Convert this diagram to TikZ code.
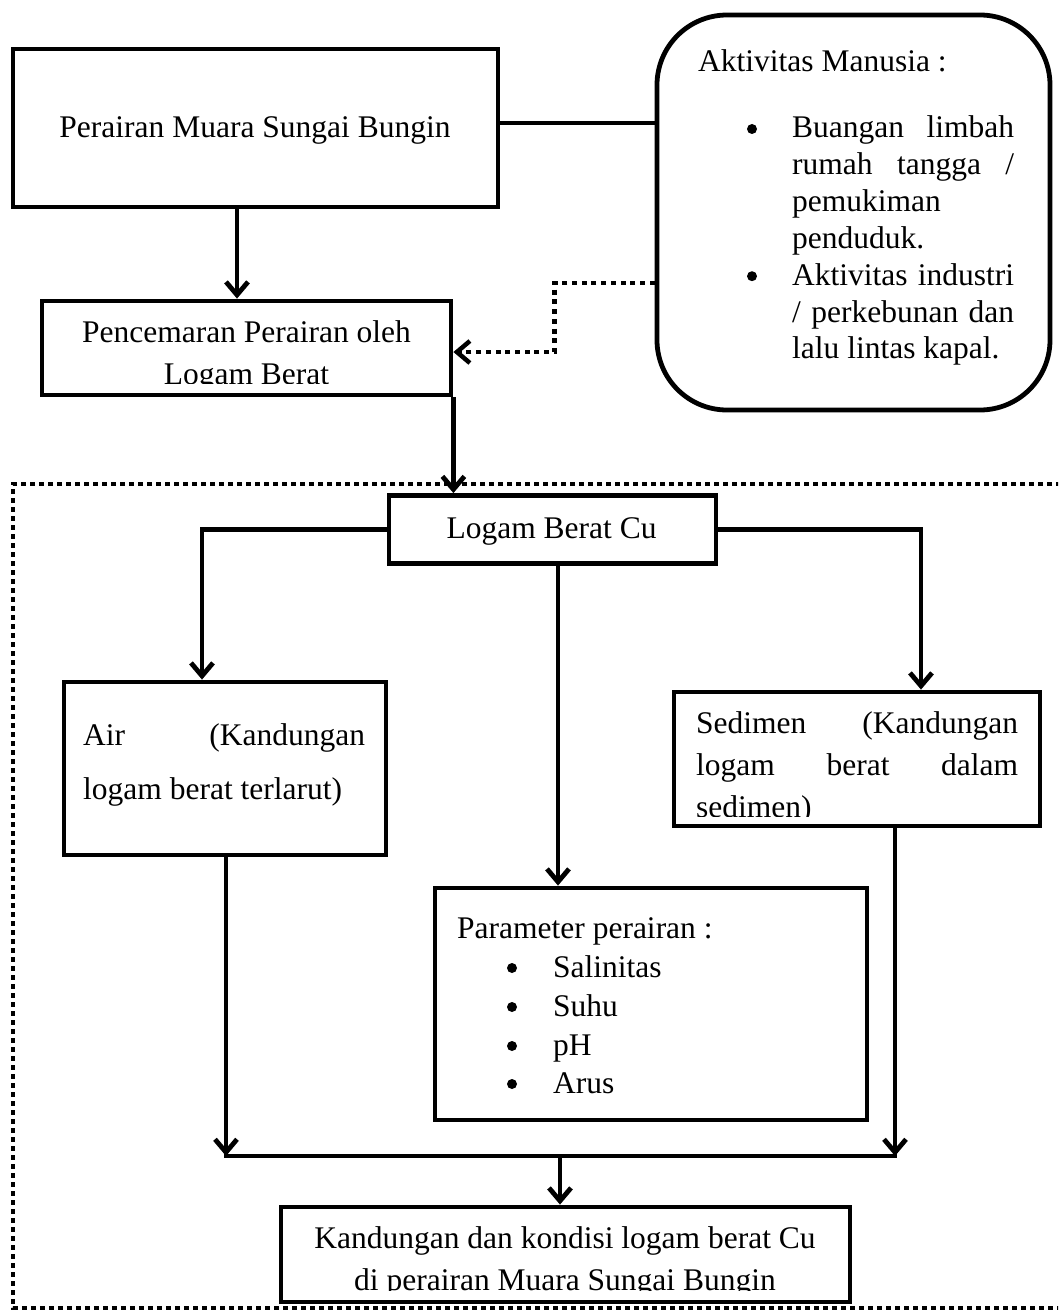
\documentclass[tikz,border=0pt]{standalone}
\usepackage{fontspec}
\setmainfont{Liberation Serif}
\usetikzlibrary{arrows.meta,calc}
\begin{document}
\begin{tikzpicture}[x=1pt,y=-1pt,
  box/.style={draw,line width=4.8pt,rectangle,inner sep=0pt},
  conn/.style={line width=4.8pt},
  arr/.style={line width=4.8pt,-{Straight Barb[length=13pt,width=22pt]}},
  dotarr/.style={line width=4.5pt,dash pattern=on 5pt off 4.7pt,-{Straight Barb[length=13pt,width=22pt]}},
  dotframe/.style={line width=4.5pt,dash pattern=on 5pt off 4pt},
  txt/.style={inner sep=0pt,font=\fontsize{31.5}{42}\selectfont},
  ctxt/.style={txt,anchor=base},
  ltxt/.style={txt,anchor=base west},
  bul/.style={circle,fill,inner sep=0pt,minimum size=10pt},
]
\useasboundingbox (0,0) rectangle (1058,1311);
\clip (0,0) rectangle (1058,1311);

% dotted frame
\draw[dotframe] (1070,484) -- (13,484) -- (13,1308) -- (1070,1308);

% boxes
\node[box,minimum width=485pt,minimum height=158pt] (box1) at (255.5,128) {};
\node[box,minimum width=409pt,minimum height=94pt] (box2) at (246.5,348) {};
\node[box,rounded corners=70pt,minimum width=393pt,minimum height=395pt] (akt) at (853.5,212.5) {};
\node[box,minimum width=327pt,minimum height=68pt] (lbc) at (552.5,529.5) {};
\node[box,minimum width=322pt,minimum height=173pt] (air) at (225,768.5) {};
\node[box,minimum width=366pt,minimum height=134pt] (sed) at (857,759) {};
\node[box,minimum width=432pt,minimum height=232pt] (par) at (651,1004) {};
\node[box,minimum width=569pt,minimum height=95pt] (kan) at (565.5,1254.5) {};

% texts
\node[ctxt] (t1) at (255,137) {Perairan Muara Sungai Bungin};
\begin{scope}
  \clip (44,303) rectangle (449,383);
  \node[ctxt] (t2a) at (246.5,342) {Pencemaran Perairan oleh};
  \node[ctxt] (t2b) at (246.5,384) {Logam Berat};
\end{scope}

\node[ltxt] (ta0) at (698,72) {Aktivitas Manusia :};
\node[bul] (ba1) at (752,129) {};
\node[ltxt] (ta1) at (792,138) {\makebox[222pt][s]{Buangan limbah}};
\node[ltxt] (ta2) at (792,174.8) {\makebox[222pt][s]{rumah tangga /}};
\node[ltxt] (ta3) at (792,211.6) {pemukiman};
\node[ltxt] (ta4) at (792,248.4) {penduduk.};
\node[bul] (ba2) at (752,276.2) {};
\node[ltxt] (ta5) at (792,285.2) {\makebox[222pt][s]{Aktivitas industri}};
\node[ltxt] (ta6) at (792,322) {\makebox[222pt][s]{/ perkebunan dan}};
\node[ltxt] (ta7) at (792,358.8) {lalu lintas kapal.};

\node[ctxt] (tl) at (551.5,538) {Logam Berat Cu};

\node[ltxt] (tair1) at (83,745) {\makebox[282pt][s]{Air (Kandungan}};
\node[ltxt] (tair2) at (83,799) {logam berat terlarut)};

\begin{scope}
  \clip (677,695) rectangle (1037,816);
  \node[ltxt] (ts1) at (696,733) {\makebox[322pt][s]{Sedimen (Kandungan}};
  \node[ltxt] (ts2) at (696,775) {\makebox[322pt][s]{logam berat dalam}};
  \node[ltxt] (ts3) at (696,817) {sedimen)};
\end{scope}

\node[ltxt] (tp0) at (457,938) {Parameter perairan :};
\node[bul] (bp1) at (512,968) {};
\node[ltxt] (tp1) at (553,977) {Salinitas};
\node[bul] (bp2) at (512,1007) {};
\node[ltxt] (tp2) at (553,1016) {Suhu};
\node[bul] (bp3) at (512,1046) {};
\node[ltxt] (tp3) at (553,1055) {pH};
\node[bul] (bp4) at (512,1084) {};
\node[ltxt] (tp4) at (553,1093) {Arus};

\begin{scope}
  \clip (284,1210) rectangle (847,1290);
  \node[ctxt] (tk1) at (565,1248) {Kandungan dan kondisi logam berat Cu};
  \node[ctxt] (tk2) at (565,1290) {di perairan Muara Sungai Bungin};
\end{scope}

% connectors
\draw[conn] ([yshift=5pt]box1.east) -- ([yshift=5pt]box1.east -| akt.west);
\draw[arr] ([xshift=-18.5pt]box1.south) -- ([xshift=-18.5pt]box1.south |- box2.north);
\draw[dotarr] ($(akt.west)+(0,70.5)$) -- ++(-100,0) |- ([yshift=-4pt]box2.east);
\draw[arr] (box2.south east) -- (box2.south east |- lbc.north);
\draw[arr] (lbc.west) -| ([xshift=-23pt]air.north);
\draw[arr] (lbc.east) -| ([xshift=64pt]sed.north);
\draw[arr] ([xshift=5.5pt]lbc.south) -- ([xshift=5.5pt]lbc.south |- par.north);

\coordinate (jl) at ([xshift=1pt]air.south |- 0,1156);
\coordinate (jr) at ([xshift=38pt]sed.south |- 0,1156);
\coordinate (jm) at (560,1156);
\draw[arr] ([xshift=1pt]air.south) -- (jl);
\draw[arr] ([xshift=38pt]sed.south) -- (jr);
\draw[conn,line cap=rect] (jl) -- (jr);
\draw[arr] (jm) -- (jm |- kan.north);
\end{tikzpicture}
\end{document}
